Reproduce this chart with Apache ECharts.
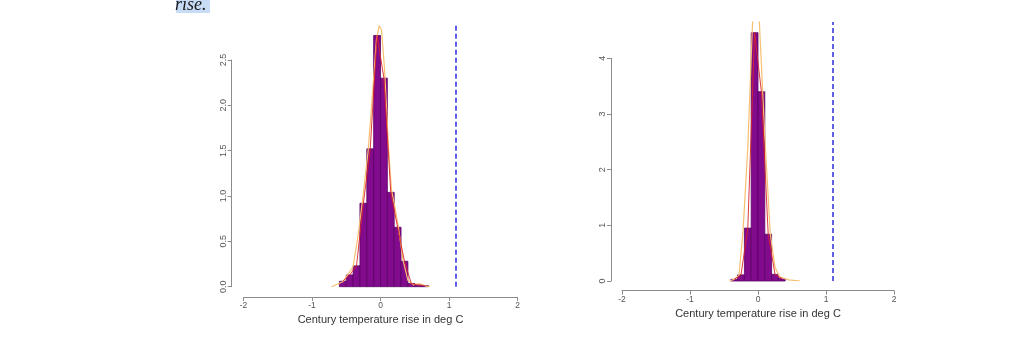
<!DOCTYPE html>
<html>
<head>
<meta charset="utf-8">
<title>Century temperature rise</title>
<script src="https://cdn.jsdelivr.net/npm/echarts@6/dist/echarts.min.js"></script>
<style>
  html, body { margin: 0; padding: 0; background: #ffffff; }
  #chart { width: 1024px; height: 340px; }
</style>
</head>
<body>
<div id="chart"></div>
<script>
// Histogram bin width (deg C) shared by both panels
const BIN_W = 0.1;

// Left panel: histogram densities per bin (bin start values)
const leftBins    = [-0.6, -0.5, -0.4, -0.3, -0.2, -0.1, 0.0, 0.1, 0.2, 0.3, 0.4, 0.5, 0.6];
const leftDensity = [0.06, 0.13, 0.23, 0.92, 1.52, 2.77, 2.30, 1.04, 0.655, 0.28, 0.035, 0.018, 0.013];
// Left panel: smoothed density curve
const leftCurveX = [-0.715, -0.55, -0.40, -0.33, -0.25, -0.18, -0.11, -0.06, -0.02, 0.015, 0.06, 0.12, 0.16, 0.21, 0.26, 0.33, 0.40, 0.48, 0.57, 0.65, 0.72];
const leftCurveY = [0.0, 0.055, 0.22, 0.55, 1.03, 1.5, 2.2, 2.72, 2.88, 2.83, 2.39, 1.5, 1.07, 0.88, 0.66, 0.29, 0.07, 0.02, 0.035, 0.01, 0.0];

// Right panel: histogram densities per bin
const rightBins    = [-0.4, -0.3, -0.2, -0.1, 0.0, 0.1, 0.2, 0.3];
const rightDensity = [0.03, 0.11, 0.95, 4.46, 3.40, 0.84, 0.12, 0.045];
// Right panel: smoothed density curve (peak runs past the plot top)
const rightCurveX = [-0.42, -0.35, -0.28, -0.22, -0.15, -0.08, -0.03, 0.02, 0.10, 0.18, 0.25, 0.32, 0.45, 0.62];
const rightCurveY = [0.0, 0.03, 0.10, 0.90, 2.40, 4.65, 5.6, 4.65, 2.6, 0.85, 0.25, 0.07, 0.02, 0.0];

// Observed rise marked on both panels
const observedRise = 1.1;

// Axis ticks
const xTicks = { min: -2, max: 2, interval: 1 };
const leftYTicks  = { min: 0, max: 2.5, interval: 0.5, decimals: 1 };
const rightYTicks = { min: 0, max: 4, interval: 1, decimals: 0 };

const xTitle = 'Century temperature rise in deg C';
const FONT = '"Liberation Sans", Arial, Helvetica, sans-serif';

// Pixel layout of each panel
const leftLayout  = { x0: 243.5, x1: 517.5, zeroY: 286.7, topY: 60.0, plotTop: 24, xOff: 10.3, yOff: 11.8 };
const rightLayout = { x0: 622.0, x1: 894.0, zeroY: 281.0, topY: 58.3, plotTop: 22, xOff: 9.7,  yOff: 11.0 };

const AXIS_COLOR = '#8c8c8c';
const LABEL_COLOR = '#555555';

const grids = [], xAxes = [], yAxes = [], series = [];

function addPanel(layout, yTicks, bins, density, curveX, curveY) {
  const base = grids.length;
  const width = layout.x1 - layout.x0;
  // Grid holding the visible axes (axis lines span the tick range only)
  grids.push({ left: layout.x0, top: layout.topY, width: width, height: layout.zeroY - layout.topY });
  // Taller grid with the same scale, holding the drawn data
  grids.push({ left: layout.x0, top: layout.plotTop, width: width, height: layout.zeroY - layout.plotTop });
  const dataYMax = yTicks.max * (layout.zeroY - layout.plotTop) / (layout.zeroY - layout.topY);

  xAxes.push({
    gridIndex: base, type: 'value', min: xTicks.min, max: xTicks.max, interval: xTicks.interval,
    offset: layout.xOff,
    axisLine: { show: true, onZero: false, lineStyle: { color: AXIS_COLOR, width: 1 } },
    axisTick: { show: true, length: 4, lineStyle: { color: AXIS_COLOR } },
    axisLabel: { fontSize: 8.5, color: LABEL_COLOR, margin: 4, fontFamily: FONT },
    splitLine: { show: false },
    name: xTitle, nameLocation: 'middle', nameGap: 16,
    nameTextStyle: { fontSize: 11, color: '#333333', fontFamily: FONT }
  });
  yAxes.push({
    gridIndex: base, type: 'value', min: yTicks.min, max: yTicks.max, interval: yTicks.interval,
    offset: layout.yOff,
    axisLine: { show: true, onZero: false, lineStyle: { color: AXIS_COLOR, width: 1 } },
    axisTick: { show: true, length: 4, lineStyle: { color: AXIS_COLOR } },
    axisLabel: {
      fontSize: 9, color: LABEL_COLOR, margin: 4, rotate: 90, fontFamily: FONT,
      formatter: v => v.toFixed(yTicks.decimals)
    },
    splitLine: { show: false }
  });
  xAxes.push({ gridIndex: base + 1, type: 'value', min: xTicks.min, max: xTicks.max, show: false });
  yAxes.push({ gridIndex: base + 1, type: 'value', min: 0, max: dataYMax, show: false });

  // Histogram bars
  series.push({
    type: 'custom', xAxisIndex: base + 1, yAxisIndex: base + 1, z: 2,
    data: bins.map((b, i) => [b, b + BIN_W, density[i]]),
    renderItem: function (params, api) {
      const p0 = api.coord([api.value(0), 0]);
      const p1 = api.coord([api.value(1), api.value(2)]);
      return {
        type: 'rect',
        shape: { x: p0[0], y: p1[1], width: p1[0] - p0[0], height: p0[1] - p1[1] },
        style: { fill: '#820a8c', stroke: '#5a0066', lineWidth: 0.8 }
      };
    },
    silent: true, animation: false
  });
  // Smoothed density curve
  series.push({
    type: 'line', xAxisIndex: base + 1, yAxisIndex: base + 1, z: 3,
    data: curveX.map((x, i) => [x, curveY[i]]),
    showSymbol: false, clip: true, silent: true, animation: false,
    lineStyle: { color: '#f7bf70', width: 1.2 }
  });
  // Frequency polygon through the bin midpoints, plus the observed-rise marker
  series.push({
    type: 'line', xAxisIndex: base + 1, yAxisIndex: base + 1, z: 4,
    data: bins.map((b, i) => [b + BIN_W / 2, density[i]]),
    showSymbol: false, clip: true, silent: true, animation: false,
    lineStyle: { color: '#d8262a', width: 0.9 },
    markLine: {
      silent: true, animation: false, symbol: ['none', 'none'],
      label: { show: false },
      lineStyle: { color: '#3a3ae0', type: [5, 3], width: 1.6 },
      data: [{ xAxis: observedRise }]
    }
  });
}

addPanel(leftLayout, leftYTicks, leftBins, leftDensity, leftCurveX, leftCurveY);
addPanel(rightLayout, rightYTicks, rightBins, rightDensity, rightCurveX, rightCurveY);

const chart = echarts.init(document.getElementById('chart'), null, { renderer: 'canvas' });
chart.setOption({
  backgroundColor: '#ffffff',
  animation: false,
  grid: grids,
  xAxis: xAxes,
  yAxis: yAxes,
  series: series,
  graphic: [
    { type: 'rect', left: 176, top: 0, shape: { width: 34, height: 13 }, style: { fill: '#c8dcf6' }, z: 1 },
    {
      type: 'text', x: 175, y: 14, z: 2,
      style: {
        text: 'rise.', fill: '#1a1a1a', verticalAlign: 'bottom',
        font: 'italic 18px "Liberation Serif", "DejaVu Serif", serif'
      }
    }
  ]
});
</script>
</body>
</html>
